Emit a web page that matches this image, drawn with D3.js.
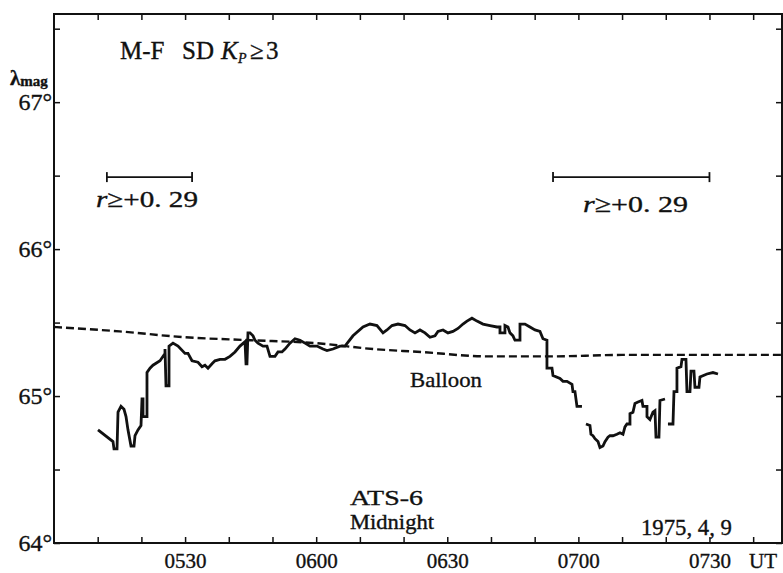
<!DOCTYPE html>
<html>
<head>
<meta charset="utf-8">
<script src="https://cdn.jsdelivr.net/npm/d3@7"></script>
<style>
  body { margin: 0; background: #fff; }
  .axis path.domain { display: none; }
  .axis line { stroke: #111; stroke-width: 1.5; }
  svg text { stroke: #111; stroke-width: 0.35px; }
</style>
</head>
<body>
<div id="chart"></div>
<script>
// time is in minutes after 0500 UT, 9 Apr 1975; latitude in degrees
const xTickLabels = ['0530', '0600', '0630', '0700', '0730'];
const yTickLabels = [64, 65, 66, 67];

const atsMinutes = [
  10.07, 13.50, 13.73, 14.42, 14.65, 15.33, 16.02, 16.48, 16.93, 17.62, 18.31, 18.54, 19.22, 19.91,
  20.14, 20.37, 20.37, 20.82, 21.28, 21.28, 21.97, 22.65, 24.26, 25.40, 25.40, 25.63, 26.32, 26.32,
  27.23, 28.38, 29.98, 30.66, 31.58, 32.95, 33.87, 34.55, 35.24, 36.16, 36.84, 37.99, 39.13, 40.27,
  41.42, 42.56, 43.71, 43.94, 44.16, 44.39, 44.85, 45.54, 46.00, 46.68, 47.83, 48.74, 49.43, 50.57,
  51.26, 52.17, 52.86, 54.00, 55.15, 56.29, 57.44, 58.58, 60.18, 61.56, 62.47, 63.84, 65.45, 66.59,
  68.42, 70.71, 72.31, 73.91, 75.29, 76.20, 77.35, 78.72, 80.32, 81.46, 82.61, 83.75, 84.90, 86.04,
  87.19, 87.87, 89.02, 90.16, 91.30, 92.45, 93.59, 94.51, 95.65, 96.80, 98.17, 99.77, 101.37, 102.06,
  102.06, 103.20, 103.20, 103.89, 104.35, 105.03, 105.49, 106.64, 106.64, 107.78, 108.92, 110.07,
  111.21, 111.90, 112.81, 112.81, 113.96, 114.19, 115.79, 116.48, 117.39, 118.54, 118.76, 119.22,
  119.68, 120.82, 121.3,
  121.74, 122.65, 122.88, 123.34, 123.80, 124.49, 124.94, 125.63, 126.09, 126.77, 127.23, 127.92,
  128.83, 129.52, 130.21, 130.66, 131.12, 131.81, 131.81, 132.49, 132.95, 133.64, 134.55, 134.78,
  135.70, 135.70, 136.38, 137.07, 137.53, 137.76, 138.44, 138.67, 139.82, 140.2,
  140.50, 141.65, 141.88, 142.56, 142.56, 143.48, 143.71, 144.62, 144.85, 145.54, 145.77, 146.45,
  146.68, 147.60, 147.83, 149.43, 150.80, 151.95
];
const atsLat = [
  64.77, 64.69, 64.64, 64.64, 64.89, 64.93, 64.91, 64.86, 64.77, 64.66, 64.66, 64.73, 64.77, 64.80,
  64.98, 64.98, 64.86, 64.86, 64.86, 65.16, 65.19, 65.21, 65.24, 65.29, 65.32, 65.07, 65.07, 65.34,
  65.36, 65.34, 65.29, 65.29, 65.24, 65.23, 65.20, 65.21, 65.19, 65.22, 65.24, 65.25, 65.25, 65.27,
  65.30, 65.34, 65.37, 65.22, 65.22, 65.43, 65.43, 65.41, 65.38, 65.36, 65.34, 65.34, 65.27, 65.27,
  65.30, 65.30, 65.32, 65.36, 65.39, 65.38, 65.36, 65.34, 65.34, 65.32, 65.31, 65.32, 65.34, 65.34,
  65.41, 65.47, 65.49, 65.48, 65.43, 65.45, 65.48, 65.49, 65.48, 65.45, 65.43, 65.45, 65.43, 65.40,
  65.41, 65.44, 65.45, 65.43, 65.44, 65.46, 65.49, 65.51, 65.53, 65.51, 65.49, 65.48, 65.47, 65.47,
  65.43, 65.43, 65.48, 65.47, 65.43, 65.41, 65.38, 65.38, 65.49, 65.49, 65.47, 65.45,
  65.44, 65.39, 65.38, 65.19, 65.19, 65.14, 65.12, 65.10, 65.10, 65.08, 65.03, 65.03,
  64.93, 64.93, null,
  64.81, 64.80, 64.74, 64.73, 64.71, 64.69, 64.65, 64.66, 64.69, 64.72, 64.73, 64.73,
  64.74, 64.75, 64.74, 64.79, 64.81, 64.81, 64.88, 64.89, 64.95, 64.96, 64.97, 64.93,
  64.93, 64.86, 64.84, 64.89, 64.90, 64.72, 64.72, 64.97, 64.98, null,
  64.81, 64.81, 65.03, 65.03, 65.19, 65.20, 65.25, 65.25, 65.03, 65.03, 65.17, 65.17,
  65.06, 65.06, 65.13, 65.15, 65.16, 65.15
];

const balloonMinutes = [0, 15, 30, 45, 60, 73, 84, 99, 114, 130, 148, 167];
const balloonLat = [65.47, 65.44, 65.40, 65.38, 65.36, 65.32, 65.30, 65.27, 65.27, 65.28, 65.28, 65.28];

// intervals with correlation r >= +0.29
const corrStart = [12.1, 114.2];
const corrEnd = [31.6, 150.0];
const corrValue = ['+0. 29', '+0. 29'];

const SERIF = '"Liberation Serif", "Times New Roman", serif';

// stretch a text horizontally (about its x) so that it spans the given width
function fitWidth(text, width) {
  const x = +text.attr('x');
  const w = text.node().getComputedTextLength();
  text.attr('transform', `translate(${x},0) scale(${width / w},1) translate(${-x},0)`);
  return text;
}

class LatitudeChart {

  width; height; margin;
  svg; scaleX; scaleY;

  constructor(container, width, height, margin) {
    this.width = width;
    this.height = height;
    this.margin = margin;   // [top, bottom, left, right]
    this.svg = d3.select(container).append('svg')
      .attr('width', width).attr('height', height)
      .style('font-family', SERIF);
  }

  #updateScales() {
    this.scaleX = d3.scaleLinear([0, 166.6], [this.margin[2], this.width - this.margin[3]]);
    this.scaleY = d3.scaleLinear([64, 67.6], [this.height - this.margin[1], this.margin[0]]);
  }

  #updateAxes() {
    const x = this.scaleX, y = this.scaleY;
    const minuteTicks = d3.range(10, 161, 10);
    const latTicks = d3.range(64, 67.6, 0.5);
    const fmtX = m => m % 30 === 0 ? xTickLabels[m / 30 - 1] : '';
    const fmtY = v => yTickLabels.includes(v) ? v + '°' : '';

    this.svg.append('g').attr('class', 'axis')
      .attr('transform', `translate(0,${y.range()[0]})`)
      .call(d3.axisBottom(x).tickValues(minuteTicks).tickSize(-6).tickPadding(10).tickFormat(fmtX))
      .attr('font-size', 21);
    this.svg.append('g').attr('class', 'axis')
      .attr('transform', `translate(0,${y.range()[1]})`)
      .call(d3.axisTop(x).tickValues(minuteTicks).tickSize(-6).tickFormat(''));
    this.svg.append('g').attr('class', 'axis')
      .attr('transform', `translate(${x.range()[0]},0)`)
      .call(d3.axisLeft(y).tickValues(latTicks).tickSize(-6).tickPadding(2).tickFormat(fmtY))
      .attr('font-size', 24);
    this.svg.append('g').attr('class', 'axis')
      .attr('transform', `translate(${x.range()[1]},0)`)
      .call(d3.axisRight(y).tickValues(latTicks).tickSize(-6).tickFormat(''));

    this.svg.selectAll('.axis').attr('font-family', SERIF)
      .selectAll('text').attr('fill', '#111');

    this.svg.append('rect')
      .attr('x', x.range()[0]).attr('y', y.range()[1])
      .attr('width', x.range()[1] - x.range()[0])
      .attr('height', y.range()[0] - y.range()[1])
      .attr('fill', 'none').attr('stroke', '#111').attr('stroke-width', 2);
  }

  #updateLines() {
    const x = this.scaleX, y = this.scaleY;

    const balloon = d3.line()
      .x((d, i) => x(balloonMinutes[i]))
      .y(d => y(d))
      .curve(d3.curveMonotoneX);
    this.svg.append('path')
      .attr('d', balloon(balloonLat))
      .attr('fill', 'none').attr('stroke', '#111')
      .attr('stroke-width', 2.4).attr('stroke-dasharray', '8,4');

    const ats = d3.line()
      .defined(d => d != null)
      .x((d, i) => x(atsMinutes[i]))
      .y(d => y(d));
    this.svg.append('path')
      .attr('d', ats(atsLat))
      .attr('fill', 'none').attr('stroke', '#111')
      .attr('stroke-width', 2.8).attr('stroke-linejoin', 'miter');
  }

  #updateCorrelation() {
    const x = this.scaleX, y = this.scaleY;
    const barLevel = y(66.49);
    const textPos = [[96, 207, 102], [583, 212, 105]];

    corrStart.forEach((s, i) => {
      const g = this.svg.append('g').attr('stroke', '#111').attr('stroke-width', 1.8);
      g.append('line').attr('x1', x(s)).attr('x2', x(corrEnd[i]))
        .attr('y1', barLevel).attr('y2', barLevel);
      [s, corrEnd[i]].forEach(m => g.append('line')
        .attr('x1', x(m)).attr('x2', x(m))
        .attr('y1', barLevel - 5).attr('y2', barLevel + 5));

      const t = this.svg.append('text')
        .attr('x', textPos[i][0]).attr('y', textPos[i][1])
        .attr('fill', '#111').style('font-size', '24px');
      t.append('tspan').style('font-style', 'italic').text('r');
      t.append('tspan').text('≥');
      t.append('tspan').text(corrValue[i]);
      fitWidth(t, textPos[i][2]);
    });
  }

  #updateLabels() {
    const s = this.svg;

    const lam = s.append('text').attr('x', 10).attr('y', 85)
      .attr('fill', '#111').style('font-weight', 'bold');
    lam.append('tspan').style('font-size', '21px').text('λ');
    lam.append('tspan').style('font-size', '15px').attr('dy', 1).text('mag');

    const title = s.append('text').attr('y', 59).attr('fill', '#111').style('font-size', '25px');
    title.append('tspan').attr('x', 120).text('M-F');
    title.append('tspan').attr('x', 182).text('SD');
    title.append('tspan').attr('x', 221).style('font-style', 'italic').text('K');
    title.append('tspan').attr('x', 238).attr('dy', 4).style('font-style', 'italic')
      .style('font-size', '14px').text('P');
    title.append('tspan').attr('x', 250).attr('dy', -4).text('≥');
    title.append('tspan').attr('x', 266).text('3');

    fitWidth(s.append('text').attr('x', 410).attr('y', 387).attr('fill', '#111')
      .style('font-size', '22px').text('Balloon'), 72);
    fitWidth(s.append('text').attr('x', 350).attr('y', 505).attr('fill', '#111')
      .style('font-size', '22px').text('ATS-6'), 73);
    fitWidth(s.append('text').attr('x', 350).attr('y', 529).attr('fill', '#111')
      .style('font-size', '20px').text('Midnight'), 84);
    fitWidth(s.append('text').attr('x', 641).attr('y', 535).attr('fill', '#111')
      .style('font-size', '23px').text('1975, 4, 9'), 91);
    s.append('text').attr('x', 749).attr('y', 568).attr('fill', '#111')
      .style('font-size', '21px').text('UT');
  }

  render() {
    this.#updateScales();
    this.#updateAxes();
    this.#updateLines();
    this.#updateCorrelation();
    this.#updateLabels();
  }
}

new LatitudeChart('#chart', 783, 573, [14, 30, 54, 1]).render();
</script>
</body>
</html>
